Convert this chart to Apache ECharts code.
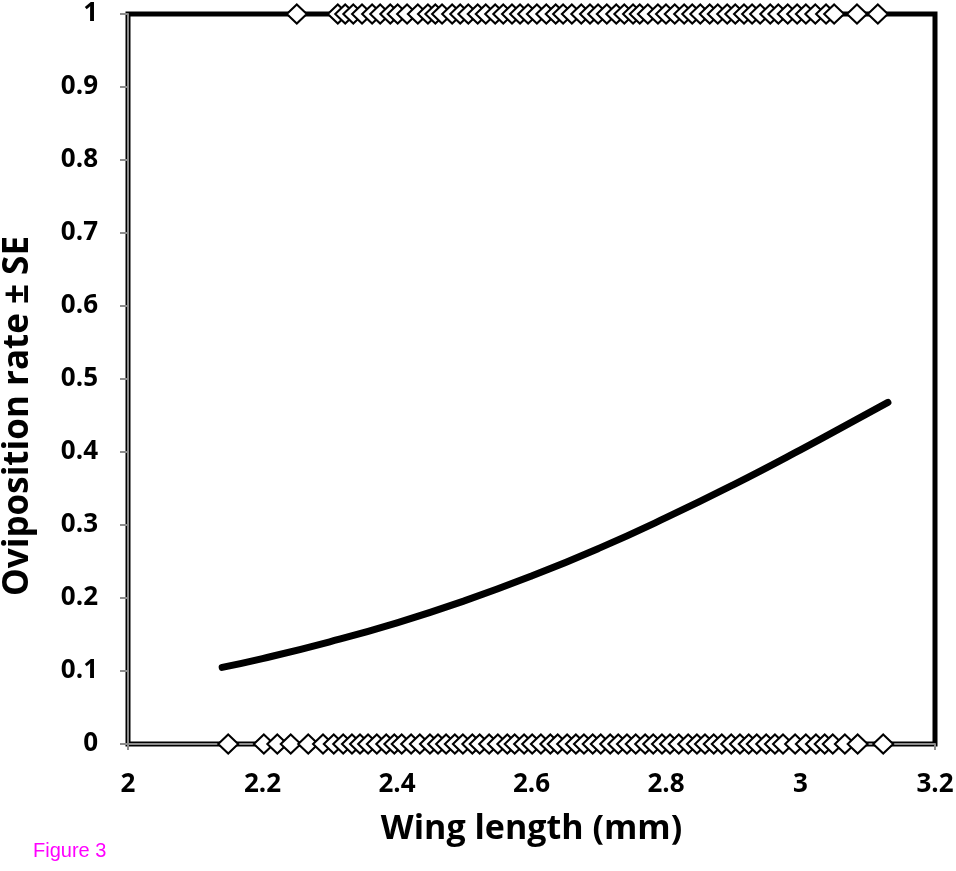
<!DOCTYPE html>
<html>
<head>
<meta charset="utf-8">
<script src="https://cdn.jsdelivr.net/npm/echarts@6/dist/echarts.min.js"></script>
<style>
  html, body { margin: 0; padding: 0; background: #fff; }
  #chart { width: 956px; height: 871px; }
</style>
</head>
<body>
<div id="chart"></div>
<script>
// wing lengths of females that laid eggs (y = 1)
const laidX = [2.251, 2.312, 2.323, 2.335, 2.348, 2.363, 2.375, 2.390, 2.401, 2.415,
  2.431, 2.446, 2.457, 2.467, 2.482, 2.494, 2.506, 2.520, 2.532, 2.546,
  2.558, 2.571, 2.583, 2.595, 2.608, 2.622, 2.636, 2.647, 2.660, 2.674,
  2.687, 2.699, 2.712, 2.726, 2.738, 2.751, 2.761, 2.773, 2.788, 2.800,
  2.813, 2.827, 2.839, 2.851, 2.865, 2.877, 2.891, 2.903, 2.916, 2.928,
  2.940, 2.955, 2.967, 2.981, 2.995, 3.008, 3.022, 3.038, 3.050, 3.084, 3.115]

// wing lengths of females that did not lay (y = 0)
const notLaidX = [2.149, 2.202, 2.222, 2.242, 2.268, 2.290, 2.306, 2.320, 2.333, 2.345,
  2.357, 2.370, 2.384, 2.396, 2.407, 2.421, 2.434, 2.449, 2.461, 2.473,
  2.486, 2.498, 2.512, 2.523, 2.537, 2.550, 2.564, 2.575, 2.589, 2.601,
  2.614, 2.628, 2.639, 2.653, 2.666, 2.678, 2.691, 2.703, 2.717, 2.729,
  2.742, 2.755, 2.769, 2.781, 2.794, 2.806, 2.819, 2.833, 2.846, 2.858,
  2.871, 2.883, 2.897, 2.910, 2.923, 2.935, 2.949, 2.962, 2.974, 2.992,
  3.008, 3.023, 3.036, 3.048, 3.066, 3.085, 3.123]

// fitted curve
const fitX = [2.14, 2.2, 2.3, 2.4, 2.5, 2.6, 2.7, 2.8, 2.9, 3.0, 3.1, 3.13]
const fitY = [0.105, 0.117, 0.140, 0.166, 0.196, 0.230, 0.268, 0.310, 0.355, 0.403, 0.453, 0.468]

const font = '"Open Sans", "Liberation Sans", sans-serif'

const chart = echarts.init(document.getElementById('chart'))

const diamond = {
  type: 'scatter',
  symbol: 'diamond',
  symbolSize: [20, 19],
  itemStyle: { color: '#fff', borderColor: '#000', borderWidth: 2, opacity: 1 },
  z: 5,
  silent: true
}

chart.setOption({
  animation: false,
  grid: {
    left: 128, right: 21, top: 14, bottom: 127,
    containLabel: false, outerBoundsMode: 'none',
    show: true, borderColor: '#000', borderWidth: 5, backgroundColor: 'transparent'
  },
  xAxis: {
    type: 'value', min: 2, max: 3.2, interval: 0.2,
    splitLine: { show: false },
    axisLine: { show: true, onZero: false, lineStyle: { color: '#8c8c8c', width: 2 } },
    axisTick: { show: true, length: 6, lineStyle: { color: '#8c8c8c', width: 2 } },
    axisLabel: {
      color: '#000', fontFamily: font, fontWeight: 'bold', fontSize: 26, margin: 28,
      formatter: v => +v.toFixed(1) + ''
    },
    name: 'Wing length (mm)', nameLocation: 'middle', nameGap: 68,
    nameTextStyle: { color: '#000', fontFamily: font, fontWeight: 'bold', fontSize: 34 }
  },
  yAxis: {
    type: 'value', min: 0, max: 1, interval: 0.1,
    splitLine: { show: false },
    axisLine: { show: true, onZero: false, lineStyle: { color: '#8c8c8c', width: 2 } },
    axisTick: { show: true, length: 8, lineStyle: { color: '#8c8c8c', width: 2 } },
    axisLabel: {
      color: '#000', fontFamily: font, fontWeight: 'bold', fontSize: 26, margin: 30,
      formatter: v => +v.toFixed(1) + ''
    }
  },
  graphic: [
    {
      type: 'text', x: 18, y: 416, rotation: Math.PI / 2,
      style: {
        text: 'Oviposition rate ± SE', fill: '#000', fontFamily: font, fontWeight: 'bold',
        fontSize: 35, align: 'center', verticalAlign: 'middle'
      }
    },
    {
      type: 'text', left: 33, top: 841,
      style: { text: 'Figure 3', fill: '#ff00ff', fontFamily: '"Liberation Sans", Arial, sans-serif', fontSize: 20 }
    }
  ],
  series: [
    {
      type: 'line',
      data: fitX.map((x, i) => [x, fitY[i]]),
      smooth: true,
      showSymbol: false,
      lineStyle: { color: '#000', width: 7, cap: 'round' },
      z: 4,
      silent: true
    },
    Object.assign({ data: laidX.map(x => [x, 1]) }, diamond),
    Object.assign({ data: notLaidX.map(x => [x, 0]) }, diamond)
  ]
})
</script>
</body>
</html>
